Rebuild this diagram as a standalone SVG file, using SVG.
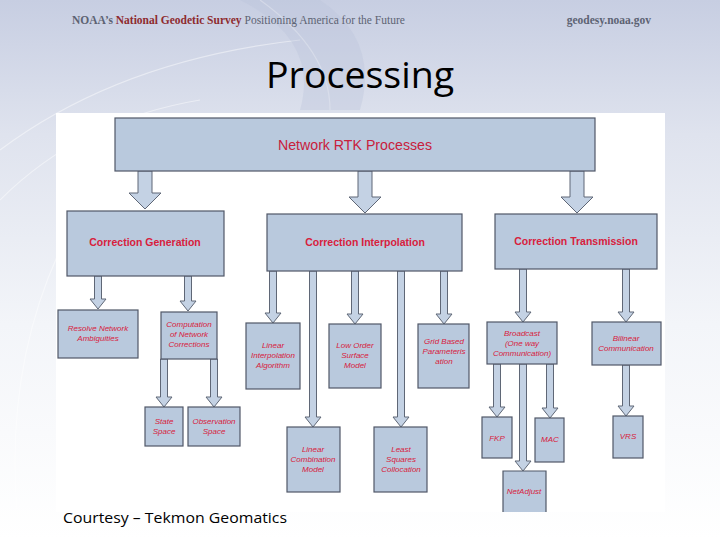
<svg xmlns="http://www.w3.org/2000/svg" width="720" height="540" viewBox="0 0 720 540">
<defs>
<linearGradient id="bg" x1="0" y1="0" x2="0" y2="1">
<stop offset="0" stop-color="#c7cee2"/>
<stop offset="0.25" stop-color="#dfe3ee"/>
<stop offset="0.6" stop-color="#f3f5f9"/>
<stop offset="1" stop-color="#ffffff"/>
</linearGradient>
<style>
.box{fill:#b9c9dd;stroke:#505868;stroke-width:1.2}
.arr{fill:#c4d2e4;stroke:#5f6776;stroke-width:1}
.big{font-family:"Liberation Sans",Arial,sans-serif;font-weight:bold;font-size:10.5px;fill:#d8203c;text-anchor:middle}
.top{font-family:"Liberation Sans",Arial,sans-serif;font-weight:normal;font-size:14px;fill:#c8203c;text-anchor:middle}
.sm{font-family:"Liberation Sans",Arial,sans-serif;font-style:italic;font-size:8px;fill:#d8203c;text-anchor:middle}
.hdr{font-family:"Liberation Serif","Times New Roman",serif;font-weight:bold;font-size:11.5px}
</style>
</defs>
<rect width="720" height="540" fill="url(#bg)"/>
<g fill="none" stroke="#ffffff" stroke-opacity="0.45" stroke-width="1.2">
<path d="M0 150 Q120 60 300 40"/>
<path d="M0 200 Q80 120 200 100"/>
<path d="M20 540 Q0 380 60 250"/>
<path d="M260 0 Q330 50 330 110"/>
</g>
<path d="M240 0 Q320 40 300 110 L360 110 Q380 40 320 0 Z" fill="#b9c2da" fill-opacity="0.35"/>
<text x="72" y="24" class="hdr" fill="#5d6373">NOAA’s <tspan fill="#8e2b2f">National Geodetic Survey</tspan> <tspan style="font-weight:normal">Positioning America for the Future</tspan></text>
<text x="651" y="24" class="hdr" fill="#5d6373" text-anchor="end">geodesy.noaa.gov</text>
<text x="360" y="88" font-family="'Open Sans','Liberation Sans',sans-serif" font-size="37" fill="#000" text-anchor="middle" textLength="188" lengthAdjust="spacingAndGlyphs">Processing</text>
<rect x="56" y="113" width="609" height="399" fill="#ffffff"/>
<g id="connectors">
<path class="arr" d="M138 171 V193 H129 L145 209 L161 193 H152 V171 Z"/>
<path class="arr" d="M358 171 V197 H349 L365 213 L381 197 H372 V171 Z"/>
<path class="arr" d="M570 171 V197 H561 L577 213 L593 197 H584 V171 Z"/>
<path class="arr" d="M94.5 276 V299 H90 L98 309 L106 299 H101.5 V276 Z"/>
<path class="arr" d="M184.5 276 V301 H180 L188 311 L196 301 H191.5 V276 Z"/>
<path class="arr" d="M160.5 359 V397 H156 L164 407 L172 397 H167.5 V359 Z"/>
<path class="arr" d="M210.5 359 V397 H206 L214 407 L222 397 H217.5 V359 Z"/>
<path class="arr" d="M269.5 271 V313 H265 L273 323 L281 313 H276.5 V271 Z"/>
<path class="arr" d="M309.5 271 V417 H305 L313 427 L321 417 H316.5 V271 Z"/>
<path class="arr" d="M351.5 271 V314 H347 L355 324 L363 314 H358.5 V271 Z"/>
<path class="arr" d="M397.5 271 V417 H393 L401 427 L409 417 H404.5 V271 Z"/>
<path class="arr" d="M440.5 271 V314 H436 L444 324 L452 314 H447.5 V271 Z"/>
<path class="arr" d="M519.5 269 V312 H515 L523 322 L531 312 H526.5 V269 Z"/>
<path class="arr" d="M622.5 269 V312 H618 L626 322 L634 312 H629.5 V269 Z"/>
<path class="arr" d="M493.5 364 V407 H489 L497 417 L505 407 H500.5 V364 Z"/>
<path class="arr" d="M519.5 364 V461 H515 L523 471 L531 461 H526.5 V364 Z"/>
<path class="arr" d="M546.5 364 V408 H542 L550 418 L558 408 H553.5 V364 Z"/>
<path class="arr" d="M622.5 365 V406 H618 L626 416 L634 406 H629.5 V365 Z"/>
</g>
<g id="network-rtk"><rect class="box" x="115" y="118" width="480" height="53"/><text x="355" y="150" class="top" textLength="154" lengthAdjust="spacingAndGlyphs">Network RTK Processes</text></g>
<g id="correction-generation"><rect class="box" x="67" y="211" width="157" height="65"/><text x="145" y="246" class="big">Correction Generation</text></g>
<g id="correction-interpolation"><rect class="box" x="267" y="214" width="195" height="57"/><text x="365" y="246" class="big">Correction Interpolation</text></g>
<g id="correction-transmission"><rect class="box" x="495" y="214" width="162" height="55"/><text x="576" y="245" class="big">Correction Transmission</text></g>
<g id="resolve"><rect class="box" x="58" y="310" width="80" height="48"/><text class="sm" x="98" y="331">Resolve Network</text><text class="sm" x="98" y="341">Ambiguities</text></g>
<g id="computation"><rect class="box" x="161" y="312" width="56" height="47"/><text class="sm" x="189" y="327">Computation</text><text class="sm" x="189" y="337">of Network</text><text class="sm" x="189" y="347">Corrections</text></g>
<g id="state-space"><rect class="box" x="145" y="407" width="38" height="39"/><text class="sm" x="164" y="424">State</text><text class="sm" x="164" y="434">Space</text></g>
<g id="observation-space"><rect class="box" x="188" y="407" width="52" height="39"/><text class="sm" x="214" y="424">Observation</text><text class="sm" x="214" y="434">Space</text></g>
<g id="linear-interp"><rect class="box" x="246" y="323" width="54" height="66"/><text class="sm" x="273" y="348">Linear</text><text class="sm" x="273" y="358">Interpolation</text><text class="sm" x="273" y="368">Algorithm</text></g>
<g id="low-order"><rect class="box" x="329" y="324" width="52" height="64"/><text class="sm" x="355" y="348">Low Order</text><text class="sm" x="355" y="358">Surface</text><text class="sm" x="355" y="368">Model</text></g>
<g id="grid-based"><rect class="box" x="418" y="324" width="51" height="64"/><text class="sm" x="444" y="344">Grid Based</text><text class="sm" x="444" y="354">Parameteris</text><text class="sm" x="444" y="364">ation</text></g>
<g id="linear-combination"><rect class="box" x="287" y="427" width="53" height="65"/><text class="sm" x="313" y="452">Linear</text><text class="sm" x="313" y="462">Combination</text><text class="sm" x="313" y="472">Model</text></g>
<g id="least-squares"><rect class="box" x="374" y="427" width="53" height="65"/><text class="sm" x="401" y="452">Least</text><text class="sm" x="401" y="462">Squares</text><text class="sm" x="401" y="472">Collocation</text></g>
<g id="broadcast"><rect class="box" x="487" y="322" width="70" height="42"/><text class="sm" x="522" y="336">Broadcast</text><text class="sm" x="522" y="346">(One way</text><text class="sm" x="522" y="356">Communication)</text></g>
<g id="bilinear"><rect class="box" x="592" y="322" width="69" height="43"/><text class="sm" x="626" y="341">Bilinear</text><text class="sm" x="626" y="351">Communication</text></g>
<g id="fkp"><rect class="box" x="482" y="417" width="30" height="41"/><text class="sm" x="497" y="441">FKP</text></g>
<g id="mac"><rect class="box" x="535" y="418" width="29" height="44"/><text class="sm" x="550" y="442">MAC</text></g>
<g id="netadjust"><path class="box" d="M503 512 V471 H546 V512"/><text class="sm" x="524" y="494">NetAdjust</text></g>
<g id="vrs"><rect class="box" x="613" y="416" width="30" height="42"/><text class="sm" x="628" y="439">VRS</text></g>
<text x="63" y="523" font-family="'Open Sans','Liberation Sans',sans-serif" font-size="15" fill="#000" textLength="224" lengthAdjust="spacingAndGlyphs">Courtesy – Tekmon Geomatics</text>
</svg>
